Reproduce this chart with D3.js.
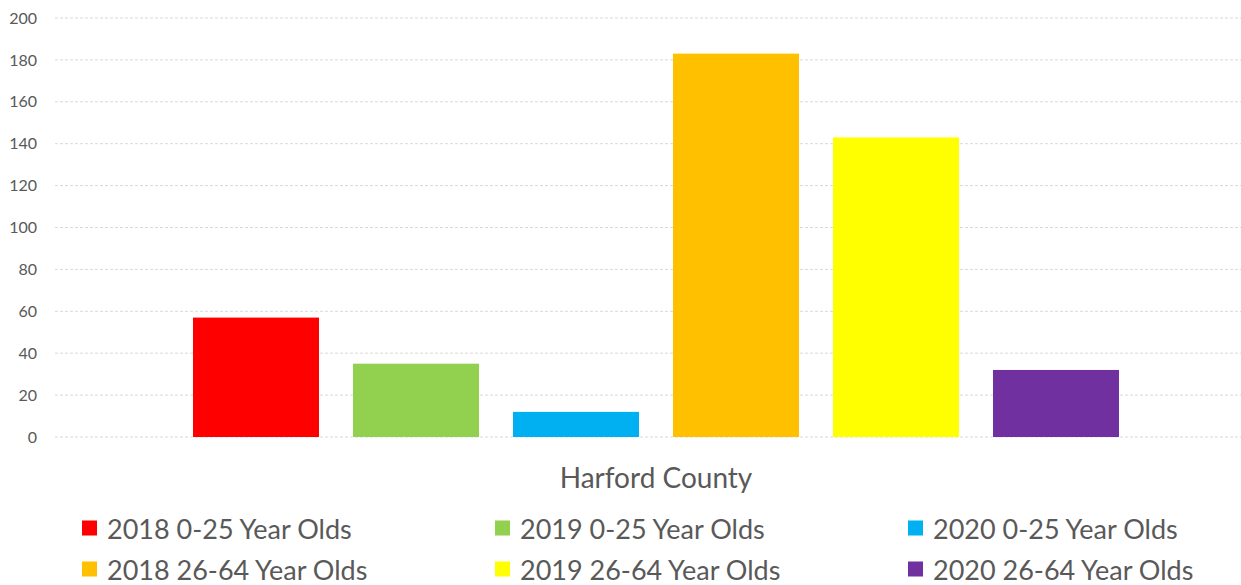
<!DOCTYPE html>
<html>
<head>
<meta charset="utf-8">
<script src="https://cdn.jsdelivr.net/npm/d3@7"></script>
<style>
  html, body { margin: 0; padding: 0; background: #fff; }
  svg { display: block; font-family: Lato, "Open Sans", sans-serif; }
</style>
</head>
<body>
<svg id="chart" width="1241" height="585"></svg>
<script>
const categories = ["Harford County"];
const seriesNames = [
  "2018 0-25 Year Olds", "2019 0-25 Year Olds", "2020 0-25 Year Olds",
  "2018 26-64 Year Olds", "2019 26-64 Year Olds", "2020 26-64 Year Olds"
];
const seriesValues = [57, 35, 12, 183, 143, 32];
const seriesColors = ["#ff0000", "#92d050", "#00b0f0", "#ffc000", "#ffff00", "#7030a0"];
const yTicks = [0, 20, 40, 60, 80, 100, 120, 140, 160, 180, 200];

const svg = d3.select("#chart");
const plot = { left: 55, right: 1257, top: 18, bottom: 437 };

const y = d3.scaleLinear().domain([0, 200]).range([plot.bottom, plot.top]);
const x0 = d3.scaleBand().domain(categories).range([plot.left, plot.right]).padding(0);
const catCenter = x0(categories[0]) + x0.bandwidth() / 2;
const x1 = d3.scaleBand().domain(seriesNames)
  .range([catCenter - 480, catCenter + 480])
  .paddingInner(0.2125).paddingOuter(0.10625);

// gridlines
svg.append("g").selectAll("line").data(yTicks).join("line")
  .attr("x1", plot.left).attr("x2", 1241)
  .attr("y1", d => y(d)).attr("y2", d => y(d))
  .attr("stroke", "#d9d9d9").attr("stroke-width", 1)
  .attr("stroke-dasharray", "3,2");

// y axis labels
const yAxis = d3.axisLeft(y).tickValues(yTicks).tickSize(0).tickPadding(0);
const ga = svg.append("g").attr("transform", `translate(37,0)`).call(yAxis);
ga.select(".domain").remove();
ga.selectAll("text").attr("fill", "#595959").style("font-size", "16px")
  .style("font-family", "Lato, 'Open Sans', sans-serif");

// bars
svg.append("g").selectAll("rect").data(seriesNames).join("rect")
  .attr("x", d => x1(d))
  .attr("width", x1.bandwidth())
  .attr("y", (d, i) => y(seriesValues[i]))
  .attr("height", (d, i) => y(0) - y(seriesValues[i]))
  .attr("fill", (d, i) => seriesColors[i]);

// category label
svg.append("text").attr("x", catCenter).attr("y", 488)
  .attr("text-anchor", "middle").attr("fill", "#595959")
  .style("font-size", "28px").text(categories[0]);

// legend
const legend = svg.append("g");
seriesNames.forEach((name, i) => {
  const col = i % 3, row = Math.floor(i / 3);
  const gx = 82 + col * 413, gy = 528 + row * 41;
  legend.append("rect").attr("x", gx).attr("y", gy - 7.5)
    .attr("width", 15).attr("height", 15).attr("fill", seriesColors[i]);
  legend.append("text").attr("x", gx + 25).attr("y", gy)
    .attr("dominant-baseline", "central").attr("fill", "#595959")
    .style("font-size", "27px").text(name);
});
</script>
</body>
</html>
